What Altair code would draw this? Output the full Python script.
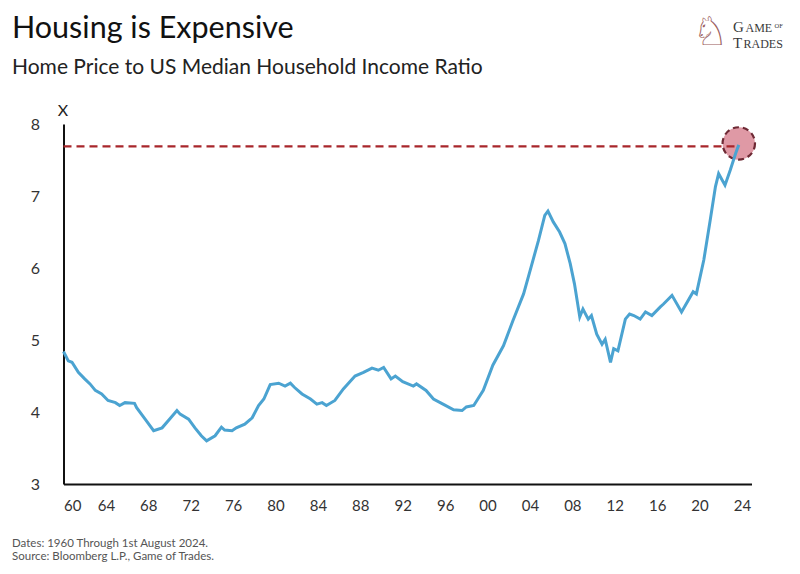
import altair as alt
import pandas as pd

# ---- data ----
years = [1960.0, 1960.45, 1960.8, 1961.4, 1962.0, 1962.5, 1963.0, 1963.6, 1964.2, 1964.9,
         1965.3, 1965.8, 1966.7, 1966.9, 1967.7, 1968.5, 1969.3, 1970.0, 1970.7, 1971.0,
         1971.8, 1972.4, 1973.0, 1973.5, 1974.3, 1974.9, 1975.2, 1975.9, 1976.3, 1977.1,
         1977.8, 1978.4, 1978.9, 1979.5, 1980.3, 1980.9, 1981.4, 1981.8, 1982.5, 1983.3,
         1983.9, 1984.4, 1984.8, 1985.6, 1986.4, 1987.5, 1988.3, 1989.1, 1989.7, 1990.2,
         1990.9, 1991.3, 1992.0, 1993.0, 1993.3, 1994.2, 1994.9, 1995.8, 1996.8, 1997.6,
         1998.0, 1998.7, 1999.6, 2000.5, 2001.5, 2002.4, 2003.4, 2004.1, 2004.8, 2005.4,
         2005.7, 2006.2, 2006.8, 2007.3, 2007.8, 2008.2, 2008.7, 2009.0, 2009.5, 2009.8,
         2010.3, 2010.8, 2011.1, 2011.6, 2011.9, 2012.3, 2013.0, 2013.4, 2013.8, 2014.4,
         2014.9, 2015.5, 2016.3, 2016.6, 2017.4, 2018.3, 2019.4, 2019.7, 2020.4, 2021.0,
         2021.5, 2021.8, 2022.4, 2022.9, 2023.4, 2023.7]
ratio = [4.84, 4.71, 4.69, 4.55, 4.46, 4.39, 4.30, 4.25, 4.16, 4.13,
         4.09, 4.13, 4.12, 4.06, 3.90, 3.74, 3.78, 3.90, 4.02, 3.97,
         3.90, 3.78, 3.67, 3.60, 3.67, 3.79, 3.75, 3.74, 3.78, 3.83,
         3.92, 4.09, 4.18, 4.38, 4.40, 4.36, 4.40, 4.34, 4.25, 4.18,
         4.11, 4.13, 4.09, 4.16, 4.32, 4.50, 4.55, 4.61, 4.58, 4.62,
         4.46, 4.50, 4.42, 4.36, 4.39, 4.30, 4.18, 4.11, 4.03, 4.02,
         4.07, 4.09, 4.30, 4.65, 4.92, 5.27, 5.64, 6.01, 6.38, 6.73,
         6.79, 6.64, 6.50, 6.34, 6.06, 5.78, 5.32, 5.43, 5.29, 5.34,
         5.08, 4.94, 5.01, 4.69, 4.88, 4.85, 5.29, 5.36, 5.34, 5.29,
         5.39, 5.34, 5.46, 5.50, 5.62, 5.39, 5.67, 5.64, 6.11, 6.66,
         7.13, 7.31, 7.15, 7.36, 7.59, 7.71]

ref_level = [7.69]
ref_start = [1960]
peak_year = [2023.7]
peak_value = [7.73]

x_ticks = [1960, 1964, 1968, 1972, 1976, 1980, 1984, 1988, 1992, 1996,
           2000, 2004, 2008, 2012, 2016, 2020, 2024]
y_ticks = [3, 4, 5, 6, 7, 8]

title_text = "Housing is Expensive"
subtitle_text = "Home Price to US Median Household Income Ratio"
foot1 = "Dates: 1960 Through 1st August 2024."
foot2 = "Source: Bloomberg L.P., Game of Trades."

FONT = "Lato"

df = pd.DataFrame({"year": years, "ratio": ratio})
ref_df = pd.DataFrame({"x0": ref_start, "x1": peak_year, "y": ref_level})
peak_df = pd.DataFrame({"year": peak_year, "ratio": peak_value})

xs = alt.Scale(domain=[1960, 2024.9], nice=False, zero=False)
ys = alt.Scale(domain=[3, 8], nice=False, zero=False)

x_axis = alt.Axis(values=x_ticks, format="d", labelExpr="substring(datum.label, 2, 4)",
                  title=None, grid=False, ticks=False, domainColor="#111111", domainWidth=2,
                  labelFontSize=15, labelPadding=14, labelFont=FONT, labelColor="#333333")
y_axis = alt.Axis(values=y_ticks, format="d", title="X", titleAngle=0, titleX=-1, titleY=-9,
                  titleAlign="center", titleBaseline="alphabetic", titleFontWeight="normal",
                  titleFontSize=16, titleFont=FONT, titleColor="#222222",
                  grid=False, ticks=False, domainColor="#111111", domainWidth=2,
                  labelFontSize=16, labelPadding=24, labelFont=FONT, labelColor="#333333")

circle = alt.Chart(peak_df).mark_point(
    filled=True, shape="circle", size=1050, fill="#d77f8f", fillOpacity=0.8,
    stroke="#6e2a35", strokeWidth=2.2, strokeDash=[6, 4], strokeOpacity=1
).encode(x=alt.X("year:Q", scale=xs, axis=x_axis),
         y=alt.Y("ratio:Q", scale=ys, axis=y_axis))

rule = alt.Chart(ref_df).mark_rule(color="#a8262b", strokeWidth=2.2, strokeDash=[8, 5]).encode(
    x=alt.X("x0:Q", scale=xs, axis=x_axis), x2="x1:Q",
    y=alt.Y("y:Q", scale=ys, axis=y_axis))

line = alt.Chart(df).mark_line(color="#4ba3d1", strokeWidth=3).encode(
    x=alt.X("year:Q", scale=xs, axis=x_axis),
    y=alt.Y("ratio:Q", scale=ys, axis=y_axis))

one = alt.Data(values=[{}])


def txt(text, x, y, size, color="#111111", font=FONT, align="left", weight="normal"):
    return alt.Chart(one).mark_text(
        text=text, align=align, baseline="alphabetic", font=font, fontSize=size,
        color=color, fontWeight=weight
    ).encode(x=alt.value(x), y=alt.value(y))


texts = [
    txt(title_text, -51.5, -86.5, 30.5),
    txt(subtitle_text, -51.5, -50, 21, color="#222222"),
    txt(foot1, -51.5, 422.5, 11.5, color="#555555"),
    txt(foot2, -51.5, 436, 11.5, color="#555555"),
    txt("\u2658", 647, -79, 40, color="#9b5d5d", font="DejaVu Sans", align="center"),
    txt("G", 669.5, -92, 15, color="#3a3a3a", font="Liberation Serif"),
    txt("AME", 682, -92, 12, color="#3a3a3a", font="Liberation Serif"),
    txt("OF", 711, -96, 6.5, color="#3a3a3a", font="Liberation Serif"),
    txt("T", 669.5, -76, 15, color="#3a3a3a", font="Liberation Serif"),
    txt("RADES", 680, -76, 12, color="#3a3a3a", font="Liberation Serif"),
]

chart = alt.layer(circle, rule, line, *texts).properties(
    width=688, height=360,
    padding={"left": 55.5, "top": 116, "right": 40, "bottom": 80},
    autosize=alt.AutoSizeParams(type="none"),
    background="white",
).configure_view(stroke="transparent", strokeWidth=0)

chart.save("out.html", embed_options={"renderer": "svg", "actions": False})
